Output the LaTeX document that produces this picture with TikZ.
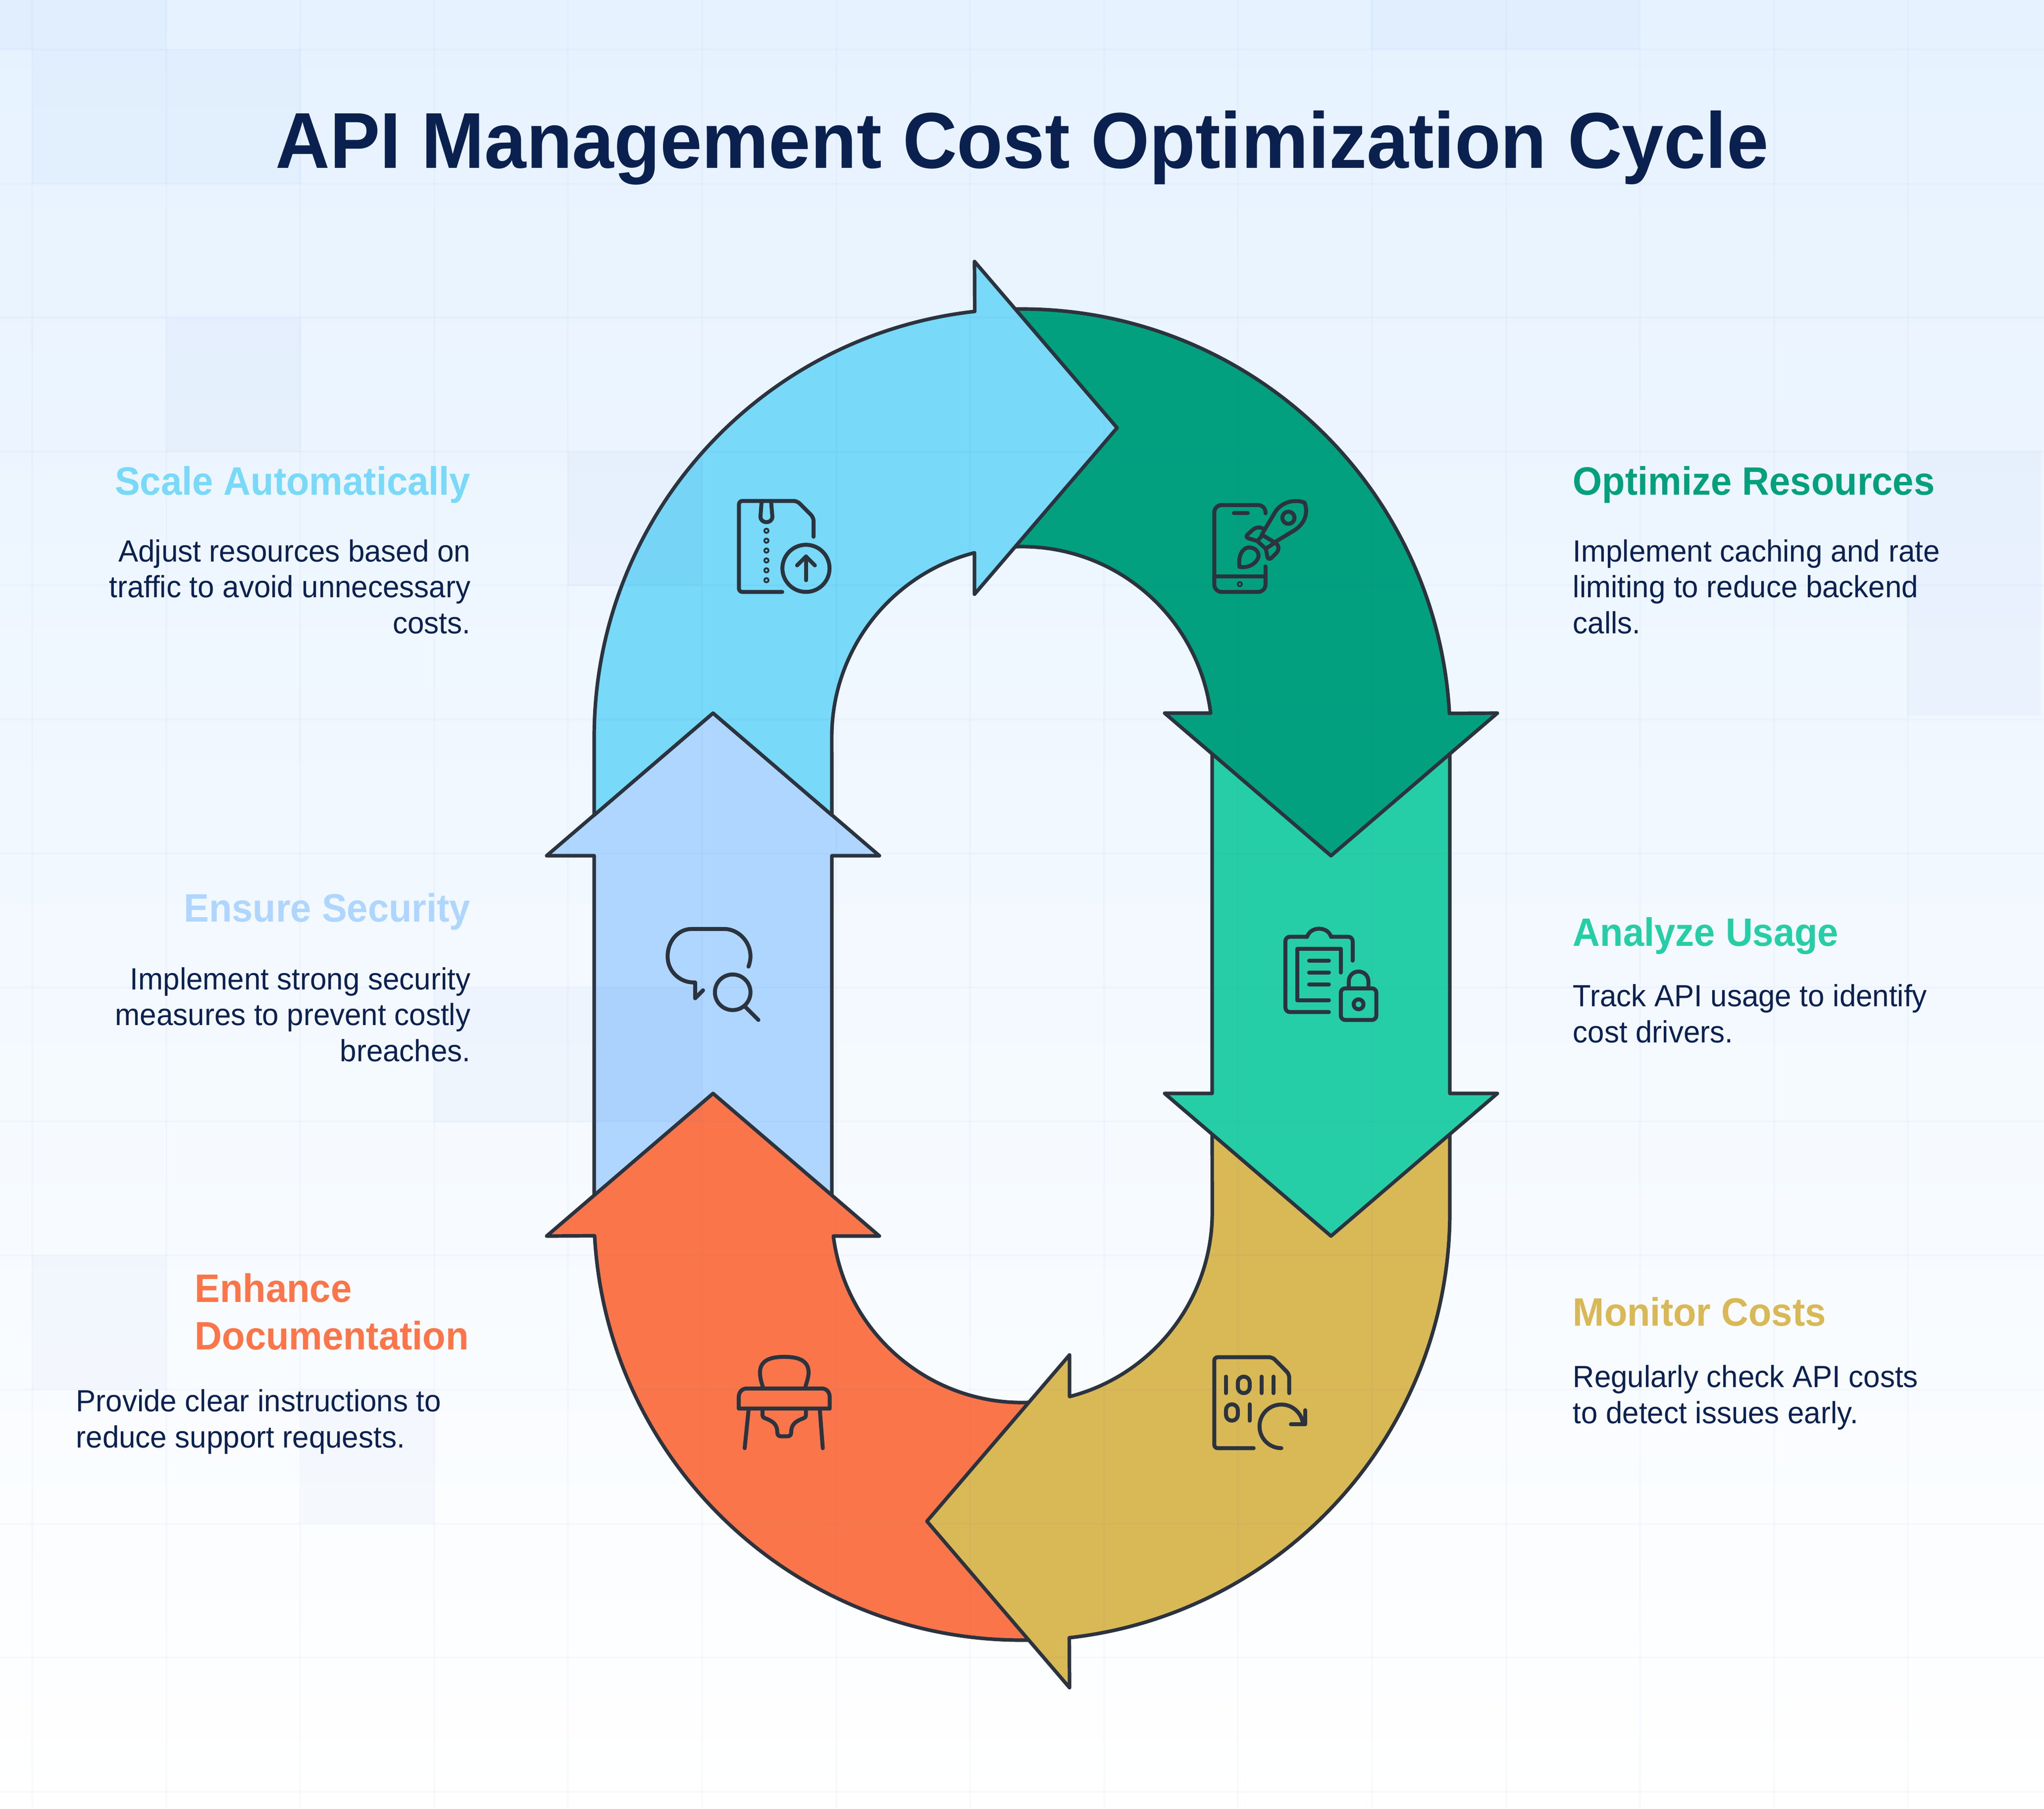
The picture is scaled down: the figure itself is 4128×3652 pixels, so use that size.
\documentclass[tikz,border=0pt]{standalone}
\usepackage{fontspec}
\setmainfont{Liberation Sans}[FakeStretch=0.97]
\newfontfamily\myboldfont{Liberation Sans Bold}[FakeStretch=0.95]
\usepackage{tikz}
\usetikzlibrary{positioning}
\definecolor{myoutline}{HTML}{2B333E}
\definecolor{myink}{HTML}{0A2150}
\definecolor{mysky}{HTML}{E6F2FF}
\definecolor{myscale}{HTML}{78D9F9}
\definecolor{myoptimize}{HTML}{02A07E}
\definecolor{myanalyze}{HTML}{25CEA6}
\definecolor{mymonitor}{HTML}{D9B856}
\definecolor{myenhance}{HTML}{FB754A}
\definecolor{myensure}{HTML}{AFD6FF}
\definecolor{mygrid}{HTML}{3F74C4}
\tikzset{
  myarrow/.style={
    draw=myoutline,
    line width=0.072cm,
    line join=round,
  },
  mycell/.style={
    fill=mygrid,
    fill opacity=0.03,
  },
  mygridline/.style={
    draw=mygrid,
    draw opacity=0.03,
    line width=0.04cm,
  },
  myicon/.style={
    x=0.003333cm,
    y=-0.003333cm,
    color=myoutline,
    line width=0.08cm,
    line cap=round,
    line join=round,
  },
  mydot/.style={
    line width=0.037cm,
  },
  mytitle/.style={
    anchor=base,
    inner sep=0pt,
    text=myink,
    font=\fontsize{45.5}{50}\selectfont\myboldfont,
  },
  myhead/.style={
    inner sep=0pt,
    font=\fontsize{22.75}{27.3}\selectfont\myboldfont,
  },
  mybody/.style={
    inner sep=0pt,
    text=myink,
    font=\fontsize{17.6}{20.6}\selectfont,
  },
}
\begin{document}
\begin{tikzpicture}[x=0.01cm,y=-0.01cm]
  \useasboundingbox (0,0) rectangle (4128,3652);
  \fill[top color=mysky,bottom color=white] (0,0) rectangle (4128,3652);

  % ring, lowest arrow first
  \path[myarrow,fill=myensure] (1200,2450) -- (1200,1728) -- (1104,1728) -- (1440,1440) -- (1776,1728) -- (1680,1728) -- (1680,2450) -- cycle;
  \path[myarrow,fill=myenhance] (2100,3311.2) arc[start angle=-87.61,end angle=-176.82,radius=8.64cm]
    -- (1104,2496) -- (1440,2208) -- (1776,2496) -- (1683,2496)
    arc[start angle=-172.82,end angle=-84.62,radius=3.84cm] -- cycle;
  \path[myarrow,fill=mymonitor] (2928,2260) -- (2928,2448) arc[start angle=0,end angle=-83.62,radius=8.64cm]
    -- (2160,3408) -- (1872,3072) -- (2160,2736) -- (2160,2820.2)
    arc[start angle=-75.52,end angle=0,radius=3.84cm] -- (2448,2260) -- cycle;
  \path[myarrow,fill=myanalyze] (2448,1500) -- (2448,2208) -- (2352,2208) -- (2688,2496) -- (3024,2208) -- (2928,2208) -- (2928,1500) -- cycle;
  \path[myarrow,fill=myoptimize] (2000,626.4) arc[start angle=94.25,end angle=3.18,radius=8.64cm]
    -- (3024,1440) -- (2688,1728) -- (2352,1440) -- (2445,1440)
    arc[start angle=7.18,end angle=99.6,radius=3.84cm] -- cycle;
  \path[myarrow,fill=myscale] (1200,1646) -- (1200,1488) arc[start angle=180,end angle=96.38,radius=8.64cm]
    -- (1968,528) -- (2256,864) -- (1968,1200) -- (1968,1116.2)
    arc[start angle=104.48,end angle=180,radius=3.84cm] -- (1680,1646) -- (1440,1440) -- cycle;

  % tinted cells and grid
  \fill[mycell] (0,0) rectangle (65,100);
  \fill[mycell] (65,0) rectangle (336,100);
  \fill[mycell] (65,100) rectangle (608,371);
  \fill[mycell] (336,641) rectangle (608,912);
  \fill[mycell] (1147,912) rectangle (1418,1183);
  \fill[mycell] (2767,0) rectangle (3311,100);
  \fill[mycell] (3851,912) rectangle (4122,1445);
  \fill[mycell] (877,1994) rectangle (1418,2265);
  \fill[mycell] (65,2535) rectangle (336,2806);
  \fill[mycell] (608,2806) rectangle (877,3076);
  \foreach \i in {0,...,14} {
    \draw[mygridline] ({65+270.6*\i},0) -- ({65+270.6*\i},3652);
  }
  \foreach \i in {0,...,13} {
    \draw[mygridline] (0,{100+270.6*\i}) -- (4128,{100+270.6*\i});
  }

  % icon: zip file with upload
  \begin{scope}[shift={(1440,960)},myicon]
    \draw[rounded corners=0.07cm] (610,372) -- (610,255) -- (510,155) -- (157,155) -- (157,707) -- (420,707);
    \draw (295,155) -- (288,250) .. controls (288,295) and (360,295) .. (360,250) -- (352,155);
    \foreach \y in {336,396,456,516,576,636} {
      \draw[mydot] (324,\y) circle [radius=13];
    }
    \draw (564,564) circle [radius=143];
    \draw (564,636) -- (564,492);
    \draw (510,546) -- (564,492) -- (618,546);
  \end{scope}

  % icon: phone with rocket
  \begin{scope}[shift={(2400,960)},myicon]
    \draw[rounded corners=0.15cm] (468,230) -- (468,180) -- (157,180) -- (157,707) -- (468,707) -- (468,552);
    \draw (157,612) -- (468,612);
    \draw (276,228) -- (360,228);
    \draw[mydot] (312,660) circle [radius=13];
    \draw (445,360) -- (525,225) .. controls (560,165) and (640,140) .. (705,165) .. controls (730,230) and (705,295) .. (640,335) -- (525,405);
    \draw (607,257) circle [radius=37];
    \draw (450,362) -- (525,408) -- (470,445) -- (418,398) -- cycle;
    \draw (418,398) -- (365,382) .. controls (350,375) and (350,370) .. (360,358) -- (385,335) .. controls (405,315) and (430,312) .. (448,320);
    \draw (528,408) .. controls (550,425) and (552,450) .. (535,470) -- (505,500) .. controls (490,512) and (482,505) .. (480,495) -- (470,445);
    \draw (310,555) .. controls (300,470) and (340,435) .. (372,437) .. controls (415,440) and (430,475) .. (425,495) .. controls (415,530) and (370,565) .. (310,555) -- cycle;
  \end{scope}

  % icon: clipboard with lock
  \begin{scope}[shift={(2560,1840)},myicon]
    \draw[rounded corners=0.09cm] (516,300) -- (516,155) -- (385,155);
    \draw (385,155) .. controls (365,90) and (260,90) .. (240,155);
    \draw[rounded corners=0.09cm] (240,155) -- (108,155) -- (108,612) -- (372,612);
    \draw (444,372) -- (444,228) -- (180,228) -- (180,540) -- (372,540);
    \draw (252,300) -- (372,300);
    \draw (252,372) -- (372,372);
    \draw (252,444) -- (372,444);
    \draw[rounded corners=0.09cm] (444,468) rectangle (660,660);
    \draw (492,468) -- (492,430) .. controls (492,345) and (612,345) .. (612,430) -- (612,468);
    \draw (552,565) circle [radius=30];
  \end{scope}

  % icon: binary file with refresh
  \begin{scope}[shift={(2400,2700)},myicon]
    \draw[rounded corners=0.07cm] (612,340) -- (612,225) -- (510,122) -- (157,122) -- (157,674) -- (396,674);
    \draw (228,240) -- (228,340);
    \draw[rounded corners=0.118cm] (300,240) rectangle (372,340);
    \draw (444,240) -- (444,340);
    \draw (516,240) -- (516,340);
    \draw[rounded corners=0.118cm] (228,408) rectangle (300,507);
    \draw (372,408) -- (372,507);
    \draw (564,674) arc[start angle=-90,end angle=-350,radius=0.44cm];
    \draw (708,444) -- (708,530) -- (622,530);
  \end{scope}

  % icon: high chair
  \begin{scope}[shift={(1440,2700)},myicon]
    \draw (305,310) .. controls (290,265) and (285,240) .. (285,215) .. controls (285,130) and (370,120) .. (432,120) .. controls (495,120) and (580,130) .. (580,215) .. controls (580,240) and (570,270) .. (558,310);
    \draw (156,434) -- (156,365) .. controls (156,335) and (175,312) .. (205,312) -- (660,312) .. controls (690,312) and (708,335) .. (708,365) -- (708,434) -- cycle;
    \draw (216,440) -- (192,674);
    \draw (648,440) -- (666,674);
    \draw (300,440) -- (300,470) .. controls (300,490) and (310,490) .. (330,498) .. controls (370,515) and (390,535) .. (390,580) .. controls (390,595) and (400,602) .. (412,602) -- (452,602) .. controls (465,602) and (474,595) .. (474,580) .. controls (474,535) and (495,515) .. (535,498) .. controls (555,490) and (564,490) .. (564,470) -- (564,440);
  \end{scope}

  % icon: speech bubble with magnifier
  \begin{scope}[shift={(1300,1840)},myicon]
    \draw (636,336) .. controls (645,310) and (648,290) .. (648,275) .. controls (648,180) and (570,108) .. (490,108) -- (290,108) .. controls (210,108) and (145,180) .. (145,275) .. controls (145,365) and (220,432) .. (300,432) -- (312,432) -- (312,528) -- (360,480);
    \draw (540,492) circle [radius=108];
    \draw (618,582) -- (696,660);
  \end{scope}

  \node[mytitle] (title) at (2064,340) {API Management Cost Optimization Cycle};

  \node[myhead,anchor=base east,text=myscale] (scalehead) at (951,999) {Scale Automatically};
  \node[mybody,anchor=base east,align=right] (scalebody) at (951,1279) {Adjust resources based on\\traffic to avoid unnecessary\\costs.};
  \node[myhead,anchor=base west,text=myoptimize] (optimizehead) at (3176,999) {Optimize Resources};
  \node[mybody,anchor=base west,align=left] (optimizebody) at (3176,1279) {Implement caching and rate\\limiting to reduce backend\\calls.};
  \node[myhead,anchor=base east,text=myensure] (ensurehead) at (951,1861) {Ensure Security};
  \node[mybody,anchor=base east,align=right] (ensurebody) at (951,2143) {Implement strong security\\measures to prevent costly\\breaches.};
  \node[myhead,anchor=base west,text=myanalyze] (analyzehead) at (3176,1910) {Analyze Usage};
  \node[mybody,anchor=base west,align=left] (analyzebody) at (3176,2105) {Track API usage to identify\\cost drivers.};
  \node[myhead,anchor=base west,text=mymonitor] (monitorhead) at (3176,2677) {Monitor Costs};
  \node[mybody,anchor=base west,align=left] (monitorbody) at (3176,2874) {Regularly check API costs\\to detect issues early.};
  \node[myhead,anchor=base west,align=left,text=myenhance] (enhancehead) at (393,2725) {Enhance\\Documentation};
  \node[mybody,anchor=base west,align=left] (enhancebody) at (153,2923) {Provide clear instructions to\\reduce support requests.};
\end{tikzpicture}
\end{document}
